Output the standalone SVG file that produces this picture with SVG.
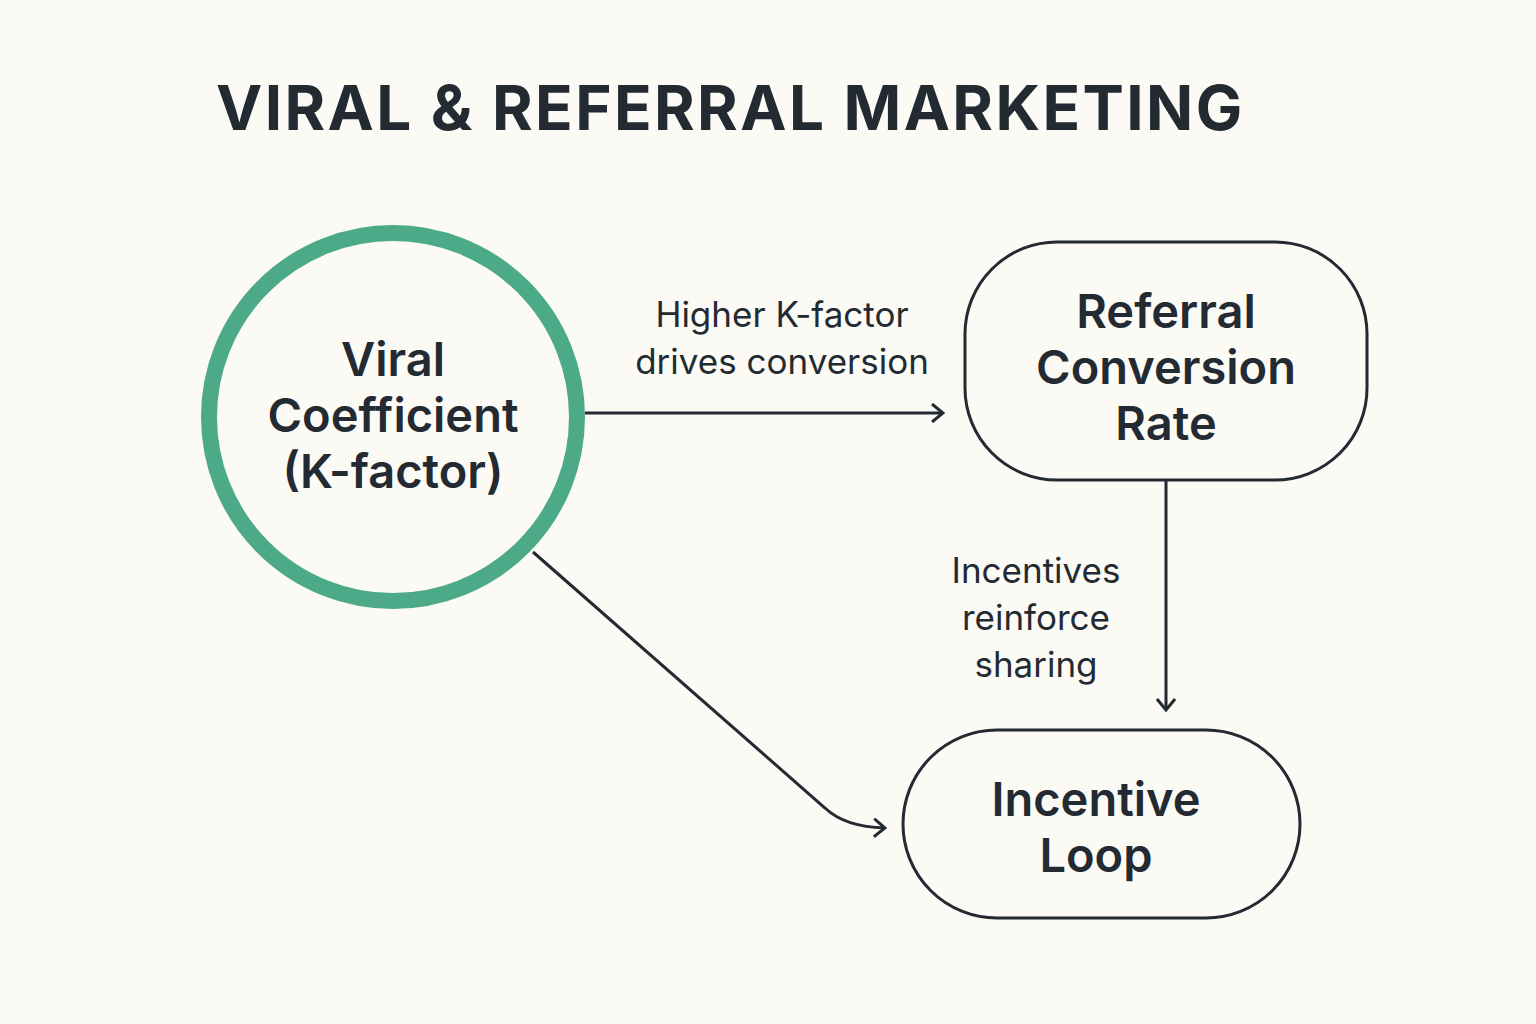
<svg xmlns="http://www.w3.org/2000/svg" width="1536" height="1024" viewBox="0 0 1536 1024">
<style>
.t{font-family:"Inter","Liberation Sans",sans-serif;fill:#232a31}
.n{font-size:47px;font-weight:600;text-anchor:middle}
.l{font-size:35px;text-anchor:middle}
.c{fill:none;stroke:#232a31;stroke-width:3}
</style>
<defs><marker id="a" markerWidth="14" markerHeight="20" refX="12" refY="10" orient="auto" markerUnits="userSpaceOnUse"><path d="M1,1 L12,10 L1,19" fill="none" stroke="#232a31" stroke-width="3"/></marker></defs>
<rect width="1536" height="1024" fill="#fbfaf5"/>
<text class="t" x="216" y="130" font-size="62" font-weight="700" letter-spacing="2.4">VIRAL &amp; REFERRAL MARKETING</text>
<g id="viral"><circle cx="393" cy="417" r="184" fill="none" stroke="#4caa88" stroke-width="16"/>
<text class="t n" x="393" y="376">Viral</text><text class="t n" x="393" y="432">Coefficient</text><text class="t n" x="393" y="488">(K-factor)</text></g>
<g id="referral"><rect x="965" y="242" width="402" height="238" rx="92" fill="none" stroke="#232a31" stroke-width="3"/>
<text class="t n" x="1166" y="328">Referral</text><text class="t n" x="1166" y="384">Conversion</text><text class="t n" x="1166" y="440">Rate</text></g>
<g id="loop"><rect x="903" y="730" width="397" height="188" rx="94" fill="none" stroke="#232a31" stroke-width="3"/>
<text class="t n" x="1096" y="816">Incentive</text><text class="t n" x="1096" y="872">Loop</text></g>
<g id="connectors">
<path class="c" d="M585,413 H943" marker-end="url(#a)"/>
<path class="c" d="M1166,480 V710" marker-end="url(#a)"/>
<path class="c" d="M533,552 L825,808 Q845,827 885,828" marker-end="url(#a)"/>
<text class="t l" x="782" y="327">Higher K-factor</text><text class="t l" x="782" y="374">drives conversion</text>
<text class="t l" x="1036" y="583">Incentives</text><text class="t l" x="1036" y="630">reinforce</text><text class="t l" x="1036" y="677">sharing</text>
</g>
</svg>
